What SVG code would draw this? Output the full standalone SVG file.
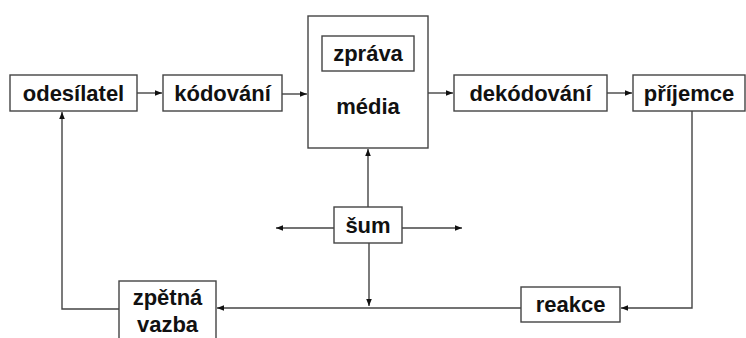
<svg xmlns="http://www.w3.org/2000/svg" width="746" height="338" viewBox="0 0 746 338">
<style>
.box{fill:#fff;stroke:#444;stroke-width:1.4}
.t{font-family:"Liberation Sans",Arial,sans-serif;font-weight:bold;font-size:22px;fill:#111;text-anchor:middle}
.c{fill:none;stroke:#444;stroke-width:1.4}
</style>
<defs>
<marker id="ah" viewBox="0 0 10 10" refX="10" refY="5" markerWidth="7" markerHeight="7" markerUnits="userSpaceOnUse" orient="auto">
<path d="M0,1 L10,5 L0,9 Z" fill="#111"/>
</marker>
</defs>
<rect width="746" height="338" fill="#fff"/>
<g id="connectors">
<line class="c" x1="137" y1="93" x2="162" y2="93" marker-end="url(#ah)"/>
<line class="c" x1="282" y1="94" x2="307" y2="94" marker-end="url(#ah)"/>
<line class="c" x1="428" y1="93" x2="453" y2="93" marker-end="url(#ah)"/>
<line class="c" x1="607" y1="93" x2="632" y2="93" marker-end="url(#ah)"/>
<line class="c" x1="368" y1="207" x2="368" y2="149" marker-end="url(#ah)"/>
<line class="c" x1="334" y1="228" x2="276" y2="228" marker-end="url(#ah)"/>
<line class="c" x1="402" y1="228" x2="462" y2="228" marker-end="url(#ah)"/>
<line class="c" x1="369" y1="243" x2="369" y2="306" marker-end="url(#ah)"/>
<polyline class="c" points="692,111 692,308 621,308" marker-end="url(#ah)"/>
<line class="c" x1="521" y1="308" x2="217" y2="308" marker-end="url(#ah)"/>
<polyline class="c" points="119,309 62,309 62,112" marker-end="url(#ah)"/>
</g>
<g id="odesilatel"><rect class="box" x="10" y="75" width="127" height="36"/><text class="t" x="73.5" y="101">odesílatel</text></g>
<g id="kodovani"><rect class="box" x="163" y="75" width="119" height="36"/><text class="t" x="222.5" y="101">kódování</text></g>
<g id="media"><rect class="box" x="308" y="16" width="120" height="132"/><text class="t" x="368" y="114">média</text></g>
<g id="zprava"><rect class="box" x="322" y="36" width="92" height="35"/><text class="t" x="368" y="61">zpráva</text></g>
<g id="dekodovani"><rect class="box" x="454" y="75" width="153" height="36"/><text class="t" x="530.5" y="101">dekódování</text></g>
<g id="prijemce"><rect class="box" x="633" y="75" width="112" height="36"/><text class="t" x="689" y="101">příjemce</text></g>
<g id="sum"><rect class="box" x="334" y="207" width="68" height="36"/><text class="t" x="368" y="233">šum</text></g>
<g id="reakce"><rect class="box" x="521" y="287" width="99" height="35"/><text class="t" x="570.5" y="312">reakce</text></g>
<g id="zpetna-vazba"><rect class="box" x="119" y="281" width="97" height="70"/><text class="t" x="167.5" y="305">zpětná</text><text class="t" x="167.5" y="332">vazba</text></g>
</svg>
